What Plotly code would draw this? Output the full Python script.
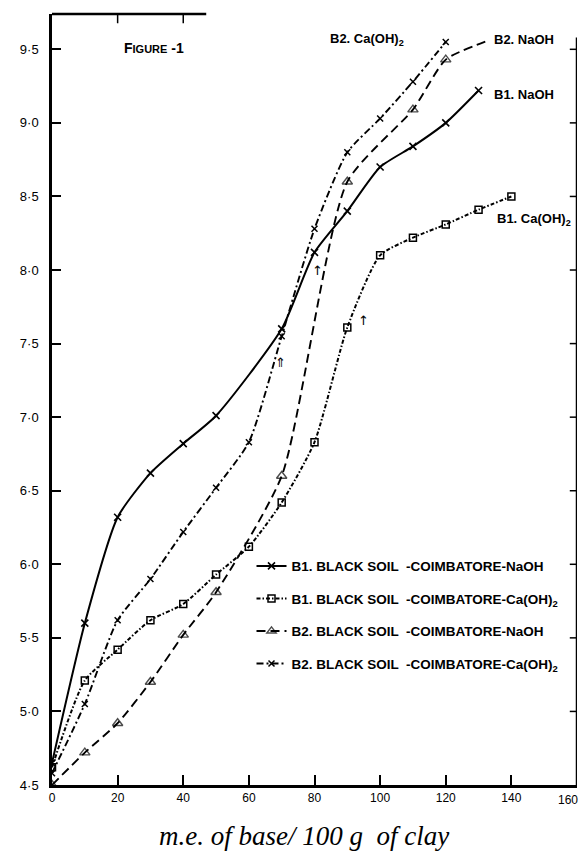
import plotly.graph_objects as go

# ---- data ----
b1_naoh_x = [0, 10, 20, 30, 40, 50, 70, 80, 90, 100, 110, 120, 130]
b1_naoh_y = [4.65, 5.6, 6.32, 6.62, 6.82, 7.01, 7.6, 8.12, 8.4, 8.7, 8.84, 9.0, 9.22]

b1_ca_x = [0, 10, 20, 30, 40, 50, 60, 70, 80, 90, 100, 110, 120, 130, 140]
b1_ca_y = [4.62, 5.21, 5.42, 5.62, 5.73, 5.93, 6.12, 6.42, 6.83, 7.61, 8.1, 8.22, 8.31, 8.41, 8.5]

b2_naoh_x = [0, 10, 20, 30, 40, 50, 70, 90, 110, 120, 133]
b2_naoh_y = [4.5, 4.72, 4.92, 5.2, 5.52, 5.81, 6.6, 8.6, 9.09, 9.43, 9.56]

b2_ca_x = [0, 10, 20, 30, 40, 50, 60, 70, 80, 90, 100, 110, 120]
b2_ca_y = [4.58, 5.05, 5.62, 5.9, 6.22, 6.52, 6.83, 7.55, 8.28, 8.8, 9.03, 9.28, 9.55]

legend_names = [
    "B1. BLACK SOIL  -COIMBATORE-NaOH",
    "B1. BLACK SOIL  -COIMBATORE-Ca(OH)<sub>2</sub>",
    "B2. BLACK SOIL  -COIMBATORE-NaOH",
    "B2. BLACK SOIL  -COIMBATORE-Ca(OH)<sub>2</sub>",
]

x_ticks = [0, 20, 40, 60, 80, 100, 120, 140]
x_last_tick = 160
y_ticks = [4.5, 5.0, 5.5, 6.0, 6.5, 7.0, 7.5, 8.0, 8.5, 9.0, 9.5]
y_tick_text = ["4·5", "5·0", "5·5", "6·0", "6·5", "7·0", "7·5", "8·0", "8·5", "9·0", "9·5"]

curve_labels = [
    ("B1. NaOH", 134, 9.19),
    ("B1. Ca(OH)<sub>2</sub>", 135, 8.34),
    ("B2. Ca(OH)<sub>2</sub>", 84, 9.57),
    ("B2. NaOH", 134, 9.57),
]
arrow_marks = [("⇑", 69.5, 7.37), ("↑", 81, 8.0), ("↑", 95, 7.66)]

X_MAX, Y_MIN, Y_TOP = 160, 4.5, 9.74

fig = go.Figure()
sans = "Liberation Sans"

fig.add_trace(go.Scatter(
    x=b1_naoh_x, y=b1_naoh_y, name=legend_names[0], legendgroup="a",
    mode="lines+markers", line=dict(color="black", width=2, shape="spline", smoothing=0.6),
    marker=dict(symbol="x-thin", size=7, color="black", line=dict(color="black", width=1.6)),
))
fig.add_trace(go.Scatter(
    x=b1_ca_x, y=b1_ca_y, name=legend_names[1], legendgroup="b",
    mode="lines+markers",
    line=dict(color="black", width=2, dash="4px,2px,1.5px,2px", shape="spline", smoothing=0.6),
    marker=dict(symbol="square-open", size=7, color="black", line=dict(color="black", width=1.5)),
))
fig.add_trace(go.Scatter(
    x=b2_naoh_x, y=b2_naoh_y, name=legend_names[2], legendgroup="c",
    mode="lines+markers",
    line=dict(color="black", width=1.9, dash="9px,5px", shape="spline", smoothing=0.6),
    marker=dict(symbol="triangle-up-open", size=[9] * (len(b2_naoh_x) - 1) + [0],
                color="black", line=dict(color="black", width=1.4)),
))
fig.add_trace(go.Scatter(
    x=b2_ca_x, y=b2_ca_y, name=legend_names[3], legendgroup="d",
    mode="lines+markers",
    line=dict(color="black", width=1.9, dash="7px,3px,2px,3px", shape="spline", smoothing=0.6),
    marker=dict(symbol="x-thin", size=6, color="black", line=dict(color="black", width=1.5)),
))

annotations = [
    dict(text="<b>F<span style='font-size:11px'>IGURE</span> -1</b>", x=31, y=9.51,
         xref="x", yref="y", showarrow=False, font=dict(family=sans, size=14, color="black")),
    dict(text="<i>m.e. of base/ 100 g  of clay</i>", x=0.48, y=-0.066, xref="paper",
         yref="paper", showarrow=False, yanchor="middle",
         font=dict(family="Liberation Serif", size=27, color="black")),
    dict(text=str(x_last_tick), x=1, y=0, xref="paper", yref="paper", xanchor="right",
         yanchor="top", yshift=-6, xshift=3, showarrow=False,
         font=dict(family=sans, size=12, color="black")),
]
for t, x, y in curve_labels:
    annotations.append(dict(text="<b>" + t + "</b>", x=x, y=y, xref="x", yref="y",
                            xanchor="left", showarrow=False,
                            font=dict(family=sans, size=13, color="black")))
for t, x, y in arrow_marks:
    annotations.append(dict(text=t, x=x, y=y, xref="x", yref="y", showarrow=False,
                            font=dict(family="DejaVu Sans", size=13, color="black")))

shapes = [
    dict(type="line", xref="x", yref="y", x0=X_MAX, x1=X_MAX, y0=Y_MIN, y1=9.58,
         line=dict(color="black", width=2.5)),
    dict(type="line", xref="x", yref="paper", x0=0, x1=47, y0=1, y1=1,
         line=dict(color="black", width=2.5)),
]
for tx in (20, 40):
    shapes.append(dict(type="line", xref="x", yref="paper", x0=tx, x1=tx, y0=1, y1=0.988,
                       line=dict(color="black", width=1.5)))
for ty in y_ticks[1:]:
    shapes.append(dict(type="line", xref="x", yref="y", x0=X_MAX, x1=X_MAX - 2.2, y0=ty, y1=ty,
                       line=dict(color="black", width=1.5)))

fig.update_layout(
    width=581, height=865,
    margin=dict(l=52, r=4, t=14, b=80),
    paper_bgcolor="white", plot_bgcolor="white",
    font=dict(family=sans, color="black"),
    showlegend=True,
    legend=dict(x=0.38, y=0.304, xanchor="left", yanchor="top",
                bgcolor="rgba(0,0,0,0)", borderwidth=0,
                font=dict(family=sans, size=13.5, color="black", weight="bold"),
                tracegroupgap=12, itemwidth=30),
    annotations=annotations,
    shapes=shapes,
    xaxis=dict(range=[0, X_MAX], tickvals=x_ticks, ticks="inside", ticklen=10, tickwidth=1.5,
               tickcolor="black", showline=True, linecolor="black", linewidth=2.5,
               showgrid=False, zeroline=False, automargin=False,
               tickfont=dict(family=sans, size=12, color="black")),
    yaxis=dict(range=[Y_MIN, Y_TOP], tickvals=y_ticks, ticktext=y_tick_text,
               ticks="inside", ticklen=9, tickwidth=1.5, tickcolor="black",
               showline=True, linecolor="black", linewidth=2.5,
               showgrid=False, zeroline=False, ticklabelstandoff=8, automargin=False,
               tickfont=dict(family=sans, size=13, color="black")),
)

fig.write_html(
    "out.html",
    config={"displayModeBar": False},
    post_script="document.body.style.margin='0';document.body.style.overflow='hidden';",
)
